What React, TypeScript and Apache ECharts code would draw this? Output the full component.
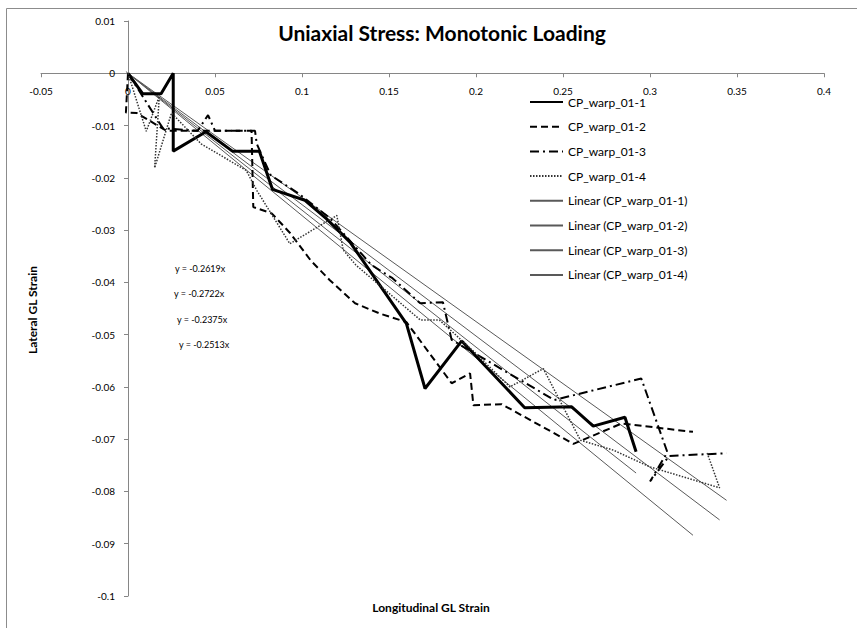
import React, { useEffect, useRef } from "react";
import * as echarts from "echarts";

// ---- data ----
const seriesNames = ["CP_warp_01-1", "CP_warp_01-2", "CP_warp_01-3", "CP_warp_01-4"];

const warp1: [number, number][] = [
  [0, 0], [0.0084, -0.0039], [0.019, -0.0039], [0.026, 0], [0.026, -0.0149],
  [0.0448, -0.0112], [0.06, -0.0149], [0.0755, -0.0149], [0.083, -0.0222],
  [0.1017, -0.0243], [0.114, -0.0278], [0.1276, -0.0323], [0.16, -0.0479],
  [0.1707, -0.0603], [0.1918, -0.0512], [0.228, -0.064], [0.255, -0.0638],
  [0.2674, -0.0675], [0.2856, -0.0658], [0.292, -0.0724],
];

const warp2: [number, number][] = [
  [0, 0], [-0.0012, -0.0075], [0.005, -0.0076], [0.022, -0.011], [0.04, -0.011],
  [0.071, -0.011], [0.072, -0.0256], [0.0826, -0.0268], [0.093, -0.0305],
  [0.105, -0.0358], [0.116, -0.0396], [0.1305, -0.044], [0.145, -0.046],
  [0.16, -0.0476], [0.186, -0.0593], [0.1966, -0.0574], [0.1985, -0.0635],
  [0.2147, -0.0633], [0.256, -0.0709], [0.2837, -0.067], [0.3247, -0.0686],
];

const warp3: [number, number][] = [
  [0, 0], [0.02, -0.0105], [0.04, -0.011], [0.046, -0.008], [0.05, -0.011],
  [0.073, -0.011], [0.074, -0.0135], [0.082, -0.0195], [0.098, -0.023],
  [0.116, -0.0277], [0.14, -0.0367], [0.152, -0.0392], [0.168, -0.044],
  [0.181, -0.0438], [0.186, -0.051], [0.245, -0.0625], [0.295, -0.0584],
  [0.31, -0.0725], [0.3, -0.0781], [0.311, -0.0732], [0.344, -0.0727],
];

const warp4: [number, number][] = [
  [0, 0], [0.0105, -0.0111], [0.018, -0.0044], [0.0153, -0.0181], [0.025, -0.0076],
  [0.042, -0.0135], [0.068, -0.0186], [0.074, -0.0224], [0.093, -0.0326],
  [0.12, -0.0272], [0.1237, -0.0338], [0.131, -0.0367], [0.168, -0.0472],
  [0.179, -0.0472], [0.198, -0.053], [0.2195, -0.06], [0.2387, -0.0565],
  [0.26, -0.0702], [0.279, -0.0721], [0.3, -0.0753], [0.34, -0.0793],
  [0.3326, -0.0724],
];

const slopes = [-0.2619, -0.2722, -0.2375, -0.2513];
const equationLabels = ["y = -0.2619x", "y = -0.2722x", "y = -0.2375x", "y = -0.2513x"];

const xMin = -0.05, xMax = 0.4, xInterval = 0.05;
const yMin = -0.1, yMax = 0.01, yInterval = 0.01;

const titleText = "Uniaxial Stress: Monotonic Loading";
const xAxisTitle = "Longitudinal GL Strain";
const yAxisTitle = "Lateral GL Strain";

const FONT = "Lato, 'Open Sans', 'Liberation Sans', sans-serif";

// plot area (pixels)
const GRID = { left: 41, right: 33, top: 21, bottom: 32 };
const W = 857, H = 628;

export default function App() {
  const ref = useRef<HTMLDivElement>(null);
  useEffect(() => {
    document.body.style.margin = "0";
    if (!ref.current) return;
    const chart = echarts.init(ref.current, undefined, { renderer: "svg" });
    const all = [warp1, warp2, warp3, warp4];
    const styles = [
      { type: "solid" as any, width: 3 },
      { type: [7, 4] as any, width: 2 },
      { type: [9, 4, 2, 4] as any, width: 2 },
      { type: [1.5, 1.5] as any, width: 1.5 },
    ];
    const dataSeries = all.map((d, i) => ({
      name: seriesNames[i],
      type: "line",
      data: d,
      symbol: "none",
      lineStyle: { color: i === 3 ? "#333" : "#000", type: styles[i].type, width: styles[i].width },
      itemStyle: { color: i === 3 ? "#333" : "#000" },
      z: 3,
    }));
    const trendSeries = all.map((d, i) => {
      const xs = d.map((p) => p[0]);
      const lo = Math.min(...xs), hi = Math.max(...xs);
      return {
        name: `Linear (${seriesNames[i]})`,
        type: "line",
        data: [[lo, slopes[i] * lo], [hi, slopes[i] * hi]],
        symbol: "none",
        lineStyle: { color: "#595959", width: 1, type: "solid" },
        itemStyle: { color: "#595959" },
        z: 2,
      };
    });
    // where the zero lines fall inside the plot area
    const plotW = W - GRID.left - GRID.right;
    const plotH = H - GRID.top - GRID.bottom;
    const zeroX = GRID.left + ((0 - xMin) / (xMax - xMin)) * plotW;
    const zeroY = GRID.top + ((yMax - 0) / (yMax - yMin)) * plotH;
    const xAxisOffset = -((H - GRID.bottom) - zeroY);
    const yAxisOffset = -(zeroX - GRID.left);

    const eqY = [270, 295, 321, 346];
    const eqX = [175, 174, 177, 179];
    chart.setOption({
      animation: false,
      backgroundColor: "#fff",
      textStyle: { fontFamily: FONT },
      title: {
        text: titleText,
        left: 437,
        top: 17,
        textAlign: "center",
        textStyle: { fontFamily: FONT, fontSize: 21, fontWeight: "bold", color: "#000" },
      },
      grid: { ...GRID, containLabel: false },
      xAxis: {
        type: "value",
        min: xMin,
        max: xMax,
        interval: xInterval,
        position: "bottom",
        offset: xAxisOffset,
        axisLine: { onZero: false, lineStyle: { color: "#868686", width: 1 } },
        axisTick: { show: true, length: 4, lineStyle: { color: "#868686" } },
        axisLabel: { margin: 13, fontSize: 10, color: "#000", fontFamily: FONT },
        splitLine: { show: false },
      },
      yAxis: {
        type: "value",
        min: yMin,
        max: yMax,
        interval: yInterval,
        position: "left",
        offset: yAxisOffset,
        axisLine: { onZero: false, lineStyle: { color: "#868686", width: 1 } },
        axisTick: { show: true, length: 4, lineStyle: { color: "#868686" } },
        axisLabel: { margin: 13, fontSize: 10, color: "#000", fontFamily: FONT },
        splitLine: { show: false },
      },
      legend: {
        orient: "vertical",
        left: 529,
        top: 96,
        padding: 0,
        itemWidth: 33,
        itemHeight: 14,
        itemGap: 12.7,
        itemStyle: { opacity: 0 },
        textStyle: { fontSize: 12, color: "#000", fontFamily: FONT },
        data: [...seriesNames, ...seriesNames.map((n) => `Linear (${n})`)],
      },
      graphic: [
        { type: "line", shape: { x1: 6.5, y1: 8.5, x2: 857, y2: 8.5 }, style: { stroke: "#8c8c8c", lineWidth: 1 }, silent: true },
        { type: "line", shape: { x1: 6.5, y1: 8.5, x2: 6.5, y2: 628 }, style: { stroke: "#8c8c8c", lineWidth: 1 }, silent: true },
        ...equationLabels.map((t, i) => ({
          type: "text",
          left: eqX[i],
          top: eqY[i] - 6,
          style: { text: t, fontSize: 9, fill: "#000", fontFamily: FONT },
        })),
        {
          type: "text",
          x: 431,
          y: 607,
          style: { text: xAxisTitle, fontSize: 12, fontWeight: "bold", fill: "#000", fontFamily: FONT, textAlign: "center", textVerticalAlign: "middle" },
        },
        {
          type: "text",
          x: 32,
          y: 310,
          rotation: Math.PI / 2,
          style: { text: yAxisTitle, fontSize: 12, fontWeight: "bold", fill: "#000", fontFamily: FONT, textAlign: "center", textVerticalAlign: "middle" },
        },
      ],
      series: [...dataSeries, ...trendSeries],
    });
    return () => chart.dispose();
  }, []);
  return <div ref={ref} style={{ width: W, height: H }} />;
}
